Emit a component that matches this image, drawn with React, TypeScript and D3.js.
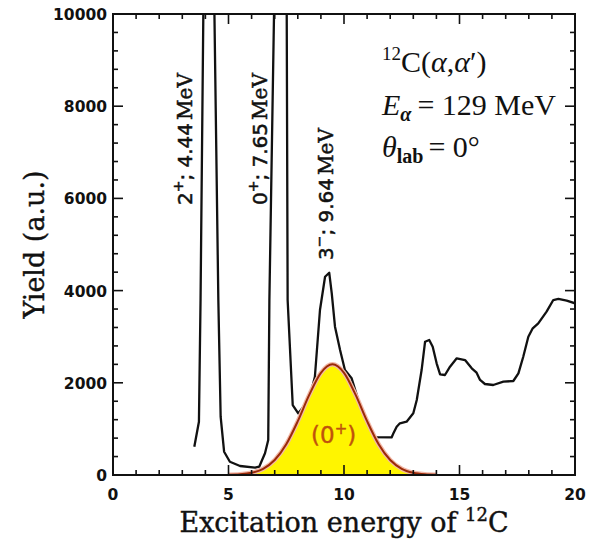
import React from 'react';
import * as d3 from 'd3';

// Measured spectrum of 12C(alpha,alpha') — excitation energy (MeV) and yield (a.u.)
const spectrumE = [3.52, 3.72, 3.79, 4.11, 4.56, 4.66, 4.81, 5.06, 5.5, 6.15, 6.33, 6.58, 6.72, 6.77, 7.43, 7.56, 7.78, 8.02, 8.3, 8.6, 8.74, 8.96, 9.18, 9.36, 9.47, 9.61, 9.83, 10.04, 10.33, 10.62, 10.85, 11.05, 12.06, 12.14, 12.28, 12.42, 12.71, 13.0, 13.15, 13.36, 13.51, 13.69, 13.84, 14.01, 14.16, 14.37, 14.59, 14.88, 15.24, 15.53, 15.74, 15.89, 16.1, 16.46, 16.9, 17.33, 17.55, 17.76, 17.98, 18.17, 18.41, 18.77, 19.06, 19.28, 19.64, 20.0];
const spectrumY = [614, 1156, 3796, 20300, 3796, 1265, 505, 288, 195, 158, 180, 471, 759, 3796, 24200, 3796, 1518, 1338, 1514, 1852, 2132, 3579, 4301, 4388, 3941, 3217, 2711, 2277, 2097, 1627, 1150, 820, 815, 904, 1048, 1121, 1157, 1338, 1627, 2277, 2891, 2928, 2783, 2423, 2184, 2169, 2349, 2531, 2494, 2314, 2219, 2061, 1974, 1952, 2024, 2039, 2206, 2566, 3000, 3182, 3290, 3543, 3796, 3818, 3781, 3724];

// Broad (0+) component
const fitE = [5.0, 5.5, 6.0, 6.5, 7.0, 7.5, 8.0, 8.5, 9.0, 9.5, 10.0, 10.5, 11.0, 11.5, 12.0, 12.5, 13.0, 13.5, 14.0];
const fitY = [4, 14, 48, 135, 325, 667, 1168, 1743, 2215, 2400, 2215, 1743, 1168, 667, 325, 135, 48, 14, 4];

const xMajorTicks = [0, 5, 10, 15, 20];
const yMajorTicks = [0, 2000, 4000, 6000, 8000, 10000];

const peakLabels = [
  { spin: '2', parity: '+', energy: '4.44' },
  { spin: '0', parity: '+', energy: '7.65' },
  { spin: '3', parity: '\u2212', energy: '9.64' },
];

export default function App() {
  const W = 598, H = 540;
  const x = d3.scaleLinear().domain([0, 20]).range([113, 575]);
  const y = d3.scaleLinear().domain([0, 10000]).range([475, 14]);

  const spec: [number, number][] = spectrumE.map((e, i) => [e, spectrumY[i]]);
  const fit: [number, number][] = fitE.map((e, i) => [e, fitY[i]]);

  const specLine = d3.line<[number, number]>().x(d => x(d[0])).y(d => y(d[1]));
  const fitArea = d3.area<[number, number]>().x(d => x(d[0])).y0(y(0)).y1(d => y(d[1])).curve(d3.curveMonotoneX);
  const fitLine = d3.line<[number, number]>().x(d => x(d[0])).y(d => y(d[1])).curve(d3.curveMonotoneX);

  const xMinor = d3.range(0, 21, 1);
  const yMinor = d3.range(0, 10001, 400);

  const [x0, x1] = x.range();
  const [y0, y1] = y.range();

  const labelPos = [
    { ex: 3.42, ey: 5856 },
    { ex: 6.67, ey: 5856 },
    { ex: 9.52, ey: 4663 },
  ];

  return (
    <svg width={W} height={H} style={{ position: 'absolute', left: 0, top: 0, display: 'block', background: '#fff' }}>
      <defs>
        <clipPath id="plotClip">
          <rect x={x0} y={y1} width={x1 - x0} height={y0 - y1} />
        </clipPath>
      </defs>

      {/* spectrum */}
      <path d={specLine(spec) || ''} fill="none" stroke="#111" strokeWidth={2.3} strokeLinejoin="round" clipPath="url(#plotClip)" />

      {/* 0+ component */}
      <path d={fitArea(fit) || ''} fill="#fff500" clipPath="url(#plotClip)" />
      <path d={fitLine(fit) || ''} fill="none" stroke="#f2b8a8" strokeWidth={4.5} clipPath="url(#plotClip)" />
      <path d={fitLine(fit) || ''} fill="none" stroke="#9a2a08" strokeWidth={2} clipPath="url(#plotClip)" />
      <text x={x(9.55)} y={443} textAnchor="middle" fontFamily="'DejaVu Sans', sans-serif" fontSize={23} fill="#c0520c" stroke="#c0520c" strokeWidth={0.4}>
        (0<tspan fontSize={15} dy={-9}>+</tspan><tspan dy={9}>)</tspan>
      </text>

      {/* frame ticks */}
      {xMinor.map(v => {
        const major = v % 5 === 0;
        const len = major ? 10 : 5;
        return (
          <g key={'xt' + v}>
            <line x1={x(v)} x2={x(v)} y1={y0} y2={y0 - len} stroke="#111" strokeWidth={1.6} />
            <line x1={x(v)} x2={x(v)} y1={y1} y2={y1 + len} stroke="#111" strokeWidth={1.6} />
          </g>
        );
      })}
      {yMinor.map(v => {
        const major = v % 2000 === 0;
        const len = major ? 10 : 5;
        return (
          <g key={'yt' + v}>
            <line x1={x0} x2={x0 + len} y1={y(v)} y2={y(v)} stroke="#111" strokeWidth={1.6} />
            <line x1={x1} x2={x1 - len} y1={y(v)} y2={y(v)} stroke="#111" strokeWidth={1.6} />
          </g>
        );
      })}
      <rect x={x0} y={y1} width={x1 - x0} height={y0 - y1} fill="none" stroke="#111" strokeWidth={2} />

      {/* tick labels */}
      {xMajorTicks.map(v => (
        <text key={'xl' + v} x={x(v)} y={500} textAnchor="middle" fontFamily="'DejaVu Sans', sans-serif" fontWeight="bold" fontSize={15.5} fill="#111">{v}</text>
      ))}
      {yMajorTicks.map(v => (
        <text key={'yl' + v} x={107} y={y(v) + 6} textAnchor="end" fontFamily="'DejaVu Sans', sans-serif" fontWeight="bold" fontSize={15.5} fill="#111">{v}</text>
      ))}

      {/* axis titles */}
      <text x={(x0 + x1) / 2} y={532} textAnchor="middle" fontFamily="'DejaVu Serif', serif" fontSize={27} fill="#111" stroke="#111" strokeWidth={0.4}>
        Excitation energy of <tspan fontSize={18} dy={-11}>12</tspan><tspan dy={11}>C</tspan>
      </text>
      <text transform={`translate(44,${(y0 + y1) / 2}) rotate(-90)`} textAnchor="middle" fontFamily="'DejaVu Serif', serif" fontSize={27} fill="#111" stroke="#111" strokeWidth={0.4}>
        Yield (a.u.)
      </text>

      {/* peak labels */}
      {peakLabels.map((p, i) => (
        <text key={'pk' + i} transform={`translate(${x(labelPos[i].ex)},${y(labelPos[i].ey)}) rotate(-90)`} fontFamily="'DejaVu Sans', sans-serif" fontSize={20} fill="#111" stroke="#111" strokeWidth={0.5}>
          {p.spin}<tspan fontSize={14} dy={-9}>{p.parity}</tspan><tspan dy={9}>; {p.energy}</tspan><tspan fontFamily="'DejaVu Serif', serif" dx={3}>MeV</tspan>
        </text>
      ))}

      {/* reaction annotation */}
      <g fontFamily="'Liberation Serif', serif" fill="#111">
        <text x={382} y={72} fontSize={30}>
          <tspan fontSize={19} dy={-12}>12</tspan><tspan dy={12}>C(</tspan><tspan fontStyle="italic">α</tspan>,<tspan fontStyle="italic">α</tspan>′)
        </text>
        <text x={382} y={115} fontSize={30}>
          <tspan fontStyle="italic">E</tspan><tspan fontSize={20} dy={6} fontStyle="italic" fontWeight="bold">α</tspan><tspan dy={-6} dx={6}>= 129 MeV</tspan>
        </text>
        <text x={382} y={157} fontSize={30}>
          <tspan fontStyle="italic">θ</tspan><tspan fontSize={20} dy={6} fontWeight="bold">lab</tspan><tspan dy={-6} dx={5}>= 0°</tspan>
        </text>
      </g>
    </svg>
  );
}
